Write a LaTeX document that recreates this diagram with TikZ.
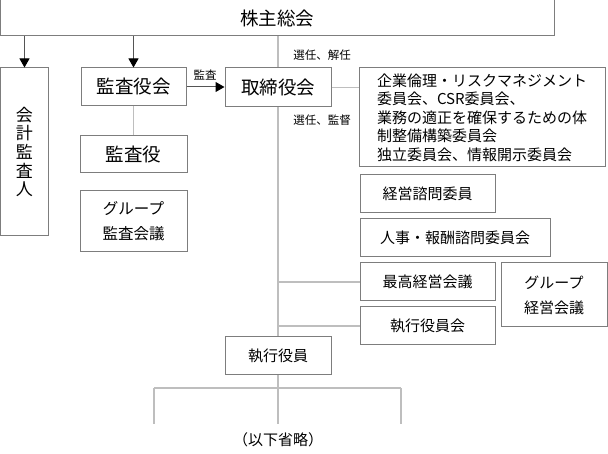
\documentclass[tikz,border=0pt]{standalone}
\usepackage{fontspec}
\setmainfont{Noto Sans CJK JP}
\usetikzlibrary{arrows.meta}
\definecolor{boxgray}{RGB}{125,125,125}
\definecolor{linegray}{RGB}{190,190,190}
\definecolor{arrowgray}{RGB}{85,85,85}

\begin{document}
\begin{tikzpicture}[x=1pt,y=-1pt]
    % Define styles
    \tikzstyle{box} = [draw=boxgray, line width=1pt, inner sep=0pt, align=center]
    \tikzstyle{big} = [box, font=\fontsize{18.5}{22}\selectfont]
    \tikzstyle{small} = [box, font=\fontsize{15}{25}\selectfont]
    \tikzstyle{note} = [inner sep=0pt, font=\fontsize{11.5}{14}\selectfont]
    \tikzstyle{link} = [line width=1.3pt, linegray]
    \tikzstyle{arrow} = [line width=1pt, arrowgray, -{Triangle[width=10pt,length=9pt,black]}]

    \useasboundingbox (0,0) rectangle (608,454);

    % Top level
    \node (kabu) [big, minimum width=554pt, minimum height=36pt] at (277,18) {株主総会};

    % Left column
    \node (kaikei) [box, minimum width=48pt, minimum height=168pt, font=\fontsize{17}{18.6}\selectfont] at (24.5,152) {会\\計\\監\\査\\人};
    \node (kansayakukai) [big, minimum width=105pt, minimum height=38pt] at (133.5,87) {監査役会};
    \node (kansayaku) [big, minimum width=107pt, minimum height=37pt] at (133.5,154.5) {監査役};
    \node (gkansa) [small, minimum width=107pt, minimum height=61pt, font=\fontsize{15.5}{25}\selectfont] at (133.5,221.5) {グループ\\監査会議};

    % Board and committees
    \node (torishimari) [big, minimum width=106pt, minimum height=39pt] at (278,87.5) {取締役会};
    \node (kigyo) [box, align=left, minimum width=246pt, minimum height=99pt, font=\fontsize{15}{18.5}\selectfont] at (482,117.5)
        {企業倫理・リスクマネジメント\\委員会、CSR委員会、\\業務の適正を確保するための体\\制整備構築委員会\\独立委員会、情報開示委員会};
    \node (shimon) [small, minimum width=135pt, minimum height=38pt] at (427.5,194) {経営諮問委員};
    \node (jinji) [small, minimum width=190pt, minimum height=38pt] at (455,238) {人事・報酬諮問委員会};
    \node (saiko) [small, minimum width=135pt, minimum height=38pt] at (427.5,282) {最高経営会議};
    \node (shikkokai) [small, minimum width=135pt, minimum height=38pt] at (427.5,326) {執行役員会};
    \node (gkeiei) [small, minimum width=106pt, minimum height=64pt] at (554,295) {グループ\\経営会議};

    % Executive officers
    \node (shikko) [small, minimum width=106pt, minimum height=38pt] at (278,356) {執行役員};
    \node (ika) [inner sep=0pt, font=\fontsize{15}{18}\selectfont] at (278,440) {（以下省略）};

    % Labels
    \node (kansa) [note] at (205,75) {監査};
    \node (senkai) [note] at (322,55) {選任、解任};
    \node (senkan) [note] at (322,120) {選任、監督};

    % Tree ends
    \coordinate (b1) at (154,388);
    \coordinate (b2) at (278,388);
    \coordinate (b3) at (401,388);
    \coordinate (e1) at (154,424);
    \coordinate (e2) at (278,424);
    \coordinate (e3) at (401,424);

    % Draw arrows
    \draw [arrow] (kabu.south -| kaikei.north) -- (kaikei.north);
    \draw [arrow] (kabu.south -| kansayakukai.north) -- (kansayakukai.north);
    \draw [arrow] (kansayakukai.east) -- (kansayakukai.east -| torishimari.west);

    % Draw links
    \draw [link] (kabu.south -| torishimari.north) -- (torishimari.north);
    \draw [link] (torishimari.south) -- (shikko.north);
    \draw [link] (torishimari.east) -- (torishimari.east -| kigyo.west);
    \draw [link] (kansayakukai.south) -- (kansayakukai.south |- kansayaku.north);
    \draw [link] (saiko.west -| torishimari.south) -- (saiko.west);
    \draw [link] (shikkokai.west -| torishimari.south) -- (shikkokai.west);
    \draw [link] (shikko.south) -- (b2);
    \draw [link] (b1) -- (b3);
    \draw [link] (b1) -- (e1);
    \draw [link] (b2) -- (e2);
    \draw [link] (b3) -- (e3);
\end{tikzpicture}
\end{document}
